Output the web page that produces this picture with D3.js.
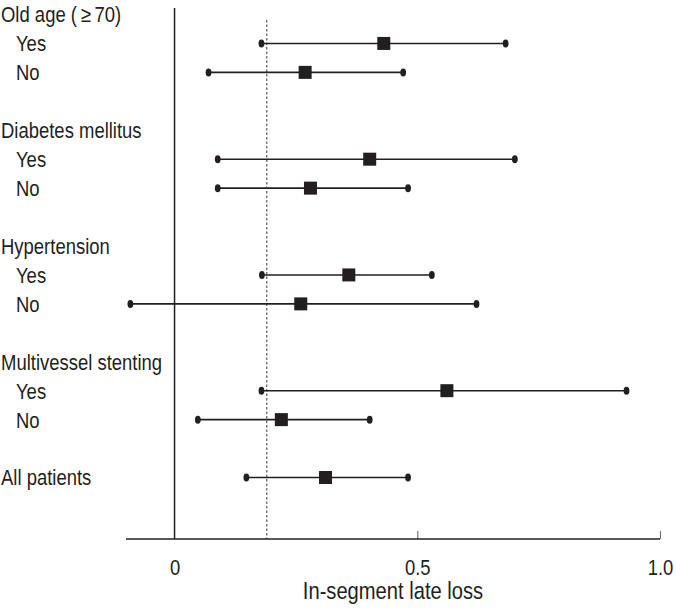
<!DOCTYPE html>
<html>
<head>
<meta charset="utf-8">
<script src="https://cdn.jsdelivr.net/npm/d3@7"></script>
<style>
  html, body { margin: 0; padding: 0; background: #ffffff; }
  svg text { font-family: 'Liberation Sans', Arial, sans-serif; fill: #231f20; }
</style>
</head>
<body>
<svg id="chart" width="676" height="609"></svg>
<script>
// Row labels (headers and sub-items), row index in the layout
const rowLabels = ["Old age (\u2009\u2265\u200970)", "Yes", "No", "", "Diabetes mellitus", "Yes", "No", "", "Hypertension", "Yes", "No", "", "Multivessel stenting", "Yes", "No", "", "All patients"];
const rowIndent = [0, 1, 1, 0, 0, 1, 1, 0, 0, 1, 1, 0, 0, 1, 1, 0, 0];
// Estimates: row index, point estimate, lower and upper bounds
const estRows  = [1, 2, 5, 6, 9, 10, 13, 14, 16];
const estimate = [0.431, 0.269, 0.402, 0.280, 0.359, 0.260, 0.561, 0.220, 0.311];
const lower    = [0.179, 0.070, 0.089, 0.089, 0.180, -0.091, 0.179, 0.048, 0.148];
const upper    = [0.682, 0.471, 0.701, 0.481, 0.530, 0.622, 0.931, 0.402, 0.481];
const refValue = 0.19;
const tickValues = [0, 0.5, 1.0];
const tickLabels = ["0", "0.5", "1.0"];
const xTitle = "In-segment late loss";

const ink = "#231f20";
const sx = 0.84; // condensed look
const svg = d3.select("#chart");

const x = d3.scaleLinear().domain([-0.1, 1.0]).range([126, 660]);
const y = d3.scaleLinear().domain([0, 16]).range([14.5, 477.5]);
const axisY = 539;

// zero line
svg.append("line")
  .attr("x1", x(0)).attr("x2", x(0))
  .attr("y1", 8).attr("y2", axisY)
  .attr("stroke", ink).attr("stroke-width", 1.5);

// reference dashed line
svg.append("line")
  .attr("x1", x(refValue)).attr("x2", x(refValue))
  .attr("y1", 20).attr("y2", axisY)
  .attr("stroke", ink).attr("stroke-width", 0.9)
  .attr("stroke-dasharray", "2.5,2");

// axis
const axis = d3.axisBottom(x)
  .tickValues(tickValues)
  .tickSize(0)
  .tickPadding(20)
  .tickFormat((d, i) => tickLabels[i]);
const gAxis = svg.append("g").attr("transform", `translate(0,${axisY})`).call(axis);
gAxis.select(".domain").remove();
gAxis.append("line")
  .attr("x1", x(-0.1)).attr("x2", x(1.0))
  .attr("y1", 0).attr("y2", 0)
  .attr("stroke", ink).attr("stroke-width", 1.5);
gAxis.selectAll(".tick").filter(d => d > 0).append("line")
  .attr("y1", 0).attr("y2", -8)
  .attr("stroke", "#777").attr("stroke-width", 1.2);
gAxis.selectAll(".tick text")
  .attr("font-size", 22)
  .attr("fill", ink)
  .attr("font-family", "'Liberation Sans', Arial, sans-serif")
  .attr("transform", `scale(${sx},1)`);

svg.append("text")
  .attr("transform", `translate(${(x(-0.1) + x(1.0)) / 2},599) scale(${sx},1)`)
  .attr("text-anchor", "middle")
  .attr("font-size", 24)
  .text(xTitle);

// row labels
svg.append("g").selectAll("text")
  .data(rowLabels.map((t, i) => ({t, i})).filter(d => d.t !== ""))
  .join("text")
  .attr("transform", d => `translate(${1 + rowIndent[d.i] * 15},${y(d.i)}) scale(${sx},1)`)
  .attr("dy", "0.36em")
  .attr("font-size", 22)
  .text(d => d.t);

// intervals
const data = estRows.map((r, i) => ({r, est: estimate[i], lo: lower[i], hi: upper[i]}));
const g = svg.append("g");
g.selectAll("line.ci").data(data).join("line")
  .attr("class", "ci")
  .attr("x1", d => x(d.lo)).attr("x2", d => x(d.hi))
  .attr("y1", d => y(d.r)).attr("y2", d => y(d.r))
  .attr("stroke", ink).attr("stroke-width", 1.6);
g.selectAll("ellipse.lo").data(data).join("ellipse")
  .attr("cx", d => x(d.lo)).attr("cy", d => y(d.r))
  .attr("rx", 2.9).attr("ry", 4).attr("fill", ink);
g.selectAll("ellipse.hi").data(data).join("ellipse")
  .attr("cx", d => x(d.hi)).attr("cy", d => y(d.r))
  .attr("rx", 2.9).attr("ry", 4).attr("fill", ink);
g.selectAll("rect").data(data).join("rect")
  .attr("x", d => x(d.est) - 6.5).attr("y", d => y(d.r) - 6.5)
  .attr("width", 13).attr("height", 13)
  .attr("fill", ink);
</script>
</body>
</html>
